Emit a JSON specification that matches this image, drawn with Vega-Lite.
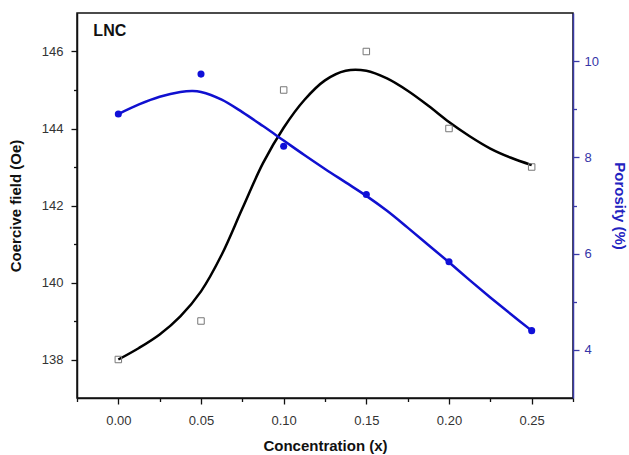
{
  "$schema": "https://vega.github.io/schema/vega-lite/v6.json",
  "width": 496,
  "height": 385,
  "autosize": {"type": "none"},
  "padding": {"left": 77, "top": 13, "right": 56, "bottom": 57},
  "background": "white",
  "config": {
    "view": {"stroke": "#111", "strokeWidth": 1.5},
    "font": "Liberation Sans",
    "axis": {"grid": false, "labelFont": "Liberation Sans", "titleFont": "Liberation Sans"}
  },
  "datasets": {
    "points": [
      {"x": 0.0, "coercive": 138, "porosity": 8.9},
      {"x": 0.05, "coercive": 139, "porosity": 9.73},
      {"x": 0.1, "coercive": 145, "porosity": 8.23},
      {"x": 0.15, "coercive": 146, "porosity": 7.23},
      {"x": 0.2, "coercive": 144, "porosity": 5.83},
      {"x": 0.25, "coercive": 143, "porosity": 4.4}
    ],
    "coerciveFit": [
      {"x": 0.0, "coercive": 138.0},
      {"x": 0.0125, "coercive": 138.3},
      {"x": 0.025, "coercive": 138.65},
      {"x": 0.0375, "coercive": 139.12},
      {"x": 0.05, "coercive": 139.77},
      {"x": 0.0625, "coercive": 140.72},
      {"x": 0.075, "coercive": 141.92},
      {"x": 0.0875, "coercive": 143.1},
      {"x": 0.1, "coercive": 144.02},
      {"x": 0.1125, "coercive": 144.74},
      {"x": 0.125, "coercive": 145.25},
      {"x": 0.1375, "coercive": 145.5},
      {"x": 0.15, "coercive": 145.5},
      {"x": 0.1625, "coercive": 145.3},
      {"x": 0.175, "coercive": 144.98},
      {"x": 0.1875, "coercive": 144.59},
      {"x": 0.2, "coercive": 144.17},
      {"x": 0.2125, "coercive": 143.8},
      {"x": 0.225, "coercive": 143.48},
      {"x": 0.2375, "coercive": 143.24},
      {"x": 0.25, "coercive": 143.05}
    ],
    "porosityFit": [
      {"x": 0.0, "porosity": 8.9},
      {"x": 0.0125, "porosity": 9.1},
      {"x": 0.025, "porosity": 9.26},
      {"x": 0.0375, "porosity": 9.36},
      {"x": 0.045, "porosity": 9.38},
      {"x": 0.05, "porosity": 9.36},
      {"x": 0.0625, "porosity": 9.2},
      {"x": 0.075, "porosity": 8.94},
      {"x": 0.0875, "porosity": 8.65},
      {"x": 0.1, "porosity": 8.35},
      {"x": 0.1125, "porosity": 8.05},
      {"x": 0.125, "porosity": 7.76},
      {"x": 0.1375, "porosity": 7.48},
      {"x": 0.15, "porosity": 7.2},
      {"x": 0.1625, "porosity": 6.89},
      {"x": 0.175, "porosity": 6.54},
      {"x": 0.1875, "porosity": 6.18},
      {"x": 0.2, "porosity": 5.82},
      {"x": 0.2125, "porosity": 5.45},
      {"x": 0.225, "porosity": 5.09},
      {"x": 0.2375, "porosity": 4.74},
      {"x": 0.25, "porosity": 4.4}
    ],
    "label": [{"x": -0.0151, "coercive": 146.52, "text": "LNC"}]
  },
  "encoding": {
    "x": {
      "field": "x",
      "type": "quantitative",
      "scale": {"domain": [-0.025, 0.275], "nice": false, "zero": false},
      "axis": {
        "title": "Concentration (x)",
        "values": [-0.025, 0, 0.025, 0.05, 0.075, 0.1, 0.125, 0.15, 0.175, 0.2, 0.225, 0.25, 0.275],
        "labelExpr": "abs(datum.value*20 - round(datum.value*20)) > 0.01 ? '' : format(datum.value, '.2f')",
        "tickSize": {"condition": {"test": "abs(datum.value*20 - round(datum.value*20)) > 0.01", "value": 3.5}, "value": 6},
        "labelFontSize": 13,
        "labelColor": "#333",
        "labelPadding": 10,
        "labelOverlap": false,
        "labelFlush": false,
        "titleFontSize": 15,
        "titleFontWeight": "bold",
        "titleColor": "#111",
        "titlePadding": 11,
        "domainColor": "#111",
        "domainWidth": 1.5,
        "tickColor": "#111",
        "tickWidth": 1.3
      }
    }
  },
  "layer": [
    {
      "encoding": {
        "y": {
          "field": "coercive",
          "type": "quantitative",
          "scale": {"domain": [137, 147], "nice": false, "zero": false},
          "axis": {
            "title": "Coercive field (Oe)",
            "orient": "left",
            "values": [138, 139, 140, 141, 142, 143, 144, 145, 146],
            "labelExpr": "datum.value % 2 == 0 ? format(datum.value, 'd') : ''",
            "tickSize": {"condition": {"test": "datum.value % 2 != 0", "value": 3.5}, "value": 6},
            "labelFontSize": 13,
            "labelColor": "#333",
            "labelPadding": 8,
            "labelOverlap": false,
            "labelFlush": false,
            "titleFontSize": 15,
            "titleFontWeight": "bold",
            "titleColor": "#111",
            "titlePadding": 18,
            "domainColor": "#111",
            "domainWidth": 1.5,
            "tickColor": "#111",
            "tickWidth": 1.3
          }
        }
      },
      "layer": [
        {
          "data": {"name": "coerciveFit"},
          "mark": {"type": "line", "color": "#000", "strokeWidth": 2.5, "interpolate": "catmull-rom"}
        },
        {
          "data": {"name": "points"},
          "mark": {"type": "point", "shape": "square", "filled": false, "stroke": "#777", "strokeWidth": 1, "size": 42, "opacity": 1}
        },
        {
          "data": {"name": "label"},
          "mark": {"type": "text", "align": "left", "baseline": "middle", "fontSize": 16, "fontWeight": "bold", "color": "#111", "font": "Liberation Sans"},
          "encoding": {"text": {"field": "text"}}
        }
      ]
    },
    {
      "encoding": {
        "y": {
          "field": "porosity",
          "type": "quantitative",
          "scale": {"domain": [3, 11], "nice": false, "zero": false},
          "axis": {
            "title": "Porosity (%)",
            "orient": "right",
            "values": [4, 5, 6, 7, 8, 9, 10],
            "labelExpr": "datum.value % 2 == 0 ? format(datum.value, 'd') : ''",
            "tickSize": {"condition": {"test": "datum.value % 2 != 0", "value": 3.5}, "value": 6},
            "labelFontSize": 13,
            "labelColor": "#3535a8",
            "labelPadding": 5,
            "labelOverlap": false,
            "labelFlush": false,
            "titleFontSize": 15,
            "titleFontWeight": "bold",
            "titleColor": "#2222c0",
            "titlePadding": 13,
            "domainColor": "#3a3aa8",
            "domainWidth": 1.5,
            "tickColor": "#3a3aa8",
            "tickWidth": 1.3
          }
        }
      },
      "layer": [
        {
          "data": {"name": "porosityFit"},
          "mark": {"type": "line", "color": "#1010d0", "strokeWidth": 2.5, "interpolate": "catmull-rom"}
        },
        {
          "data": {"name": "points"},
          "mark": {"type": "circle", "color": "#1010d8", "size": 50, "opacity": 1}
        }
      ]
    }
  ],
  "resolve": {"scale": {"y": "independent"}, "axis": {"y": "independent"}}
}
